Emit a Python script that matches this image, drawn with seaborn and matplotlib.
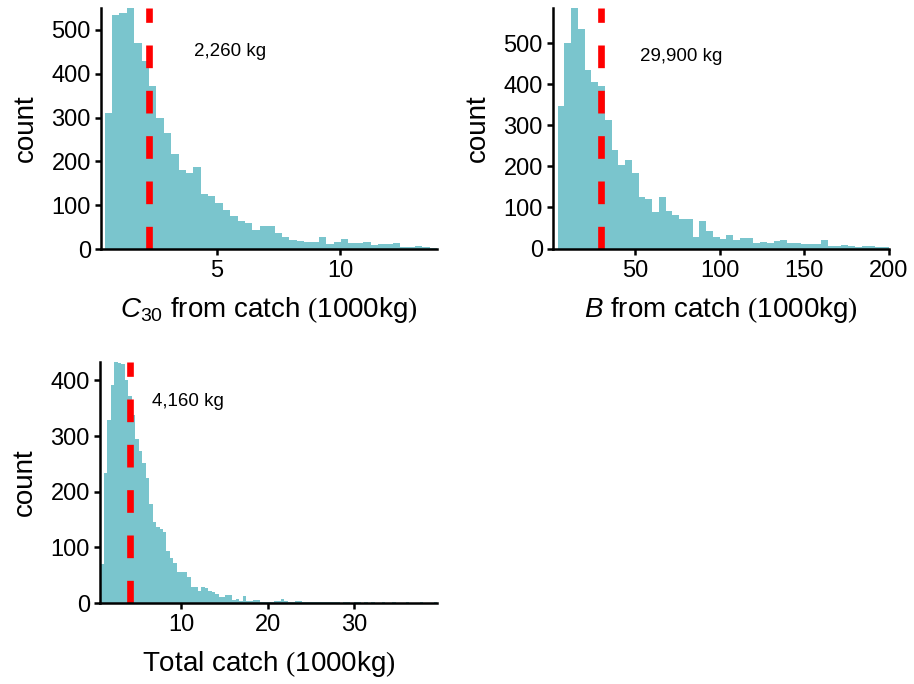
import numpy as np
import pandas as pd
import matplotlib
matplotlib.use('Agg')
import matplotlib.pyplot as plt
import seaborn as sns

# C30 from catch: 45 bins starting at 0.46, width ~0.3 (1000 kg)
c30_start, c30_width = 0.46, 0.2991
c30_counts = [310, 533, 539, 550, 469, 430, 372, 300, 265, 216,
              180, 174, 186, 125, 122, 105, 90, 76, 63, 60,
              44, 53, 53, 36, 28, 21, 19, 16, 15, 27,
              11, 17, 22, 13, 13, 16, 8, 12, 11, 13,
              5, 5, 6, 5, 3]
c30_median = 2.26
c30_text = '2,260 kg'

# B from catch: 49 bins starting at 4.4, width ~4 (1000 kg)
b_start, b_width = 4.4, 3.986
b_counts = [348, 501, 586, 535, 434, 406, 397, 312, 239, 204,
            216, 183, 126, 121, 89, 126, 92, 81, 72, 71,
            29, 68, 43, 28, 23, 32, 21, 25, 26, 13,
            15, 14, 18, 21, 14, 13, 10, 11, 12, 20,
            7, 7, 9, 5, 4, 6, 6, 3, 4]
b_median = 29.9
b_text = '29,900 kg'

# Total catch: 97 bins starting at 0.7, width 0.4 (1000 kg)
tot_start, tot_width = 0.70, 0.4008
tot_counts = [70, 234, 328, 391, 433, 432, 429, 401, 372, 338,
              294, 273, 252, 225, 177, 145, 136, 133, 127, 94,
              80, 71, 55, 56, 56, 47, 28, 28, 21, 28,
              27, 21, 19, 16, 11, 10, 15, 15, 6, 7,
              3, 13, 4, 4, 5, 5, 2, 2, 2, 2,
              3, 3, 7, 4, 2, 1, 3, 3, 1, 1,
              1, 1, 1, 1, 1, 2, 2, 1, 1, 0,
              1, 1, 0, 1, 1, 0, 1, 0, 1, 0,
              0, 1, 0, 0, 1, 0, 0, 0, 1, 0,
              0, 0, 1, 0, 0, 0, 1]
tot_median = 4.16
tot_text = '4,160 kg'

bar_color = '#7AC5CD'
line_color = '#FF0000'

sns.set_theme(style='ticks')
plt.rcParams['font.family'] = ['Liberation Sans', 'DejaVu Sans']
plt.rcParams['mathtext.fontset'] = 'custom'
plt.rcParams['mathtext.rm'] = 'Liberation Serif'
plt.rcParams['mathtext.it'] = 'Liberation Sans:italic'
plt.rcParams['mathtext.sf'] = 'Liberation Sans'


def draw_panel(ax, start, width, counts, median, text, text_xy,
               xlabel, xlim, xticks, yticks):
    edges = start + width * np.arange(len(counts) + 1)
    df = pd.DataFrame({'value': (edges[:-1] + edges[1:]) / 2,
                       'n': counts})
    sns.histplot(data=df, x='value', weights='n', bins=list(edges),
                 element='step', fill=True, color=bar_color, alpha=1,
                 linewidth=0, ax=ax)
    ax.axvline(median, color=line_color, lw=4.8, linestyle=(0, (3.4, 3.4)))
    ax.text(text_xy[0], text_xy[1], text, ha='center', va='center',
            fontsize=13.5, color='black')

    ax.set_xlim(xlim)
    ax.set_ylim(0, max(counts))
    ax.set_xticks(xticks)
    ax.set_yticks(yticks)
    ax.set_xlabel(xlabel, fontsize=20, color='black', labelpad=9.5)
    ax.set_ylabel('count', fontsize=20, color='black', labelpad=9)

    sns.despine(ax=ax)
    for side in ['left', 'bottom']:
        ax.spines[side].set_linewidth(1.8)
        ax.spines[side].set_color('black')
    ax.tick_params(length=4.5, width=1.8, labelsize=17, colors='black')
    ax.tick_params(axis='y', pad=2.8)


fig = plt.figure(figsize=(9.14, 6.84), dpi=100)
W, H = 914, 684

ax1 = fig.add_axes([101 / W, (H - 249) / H, 336 / W, 241 / H])
draw_panel(ax1, c30_start, c30_width, c30_counts, c30_median, c30_text,
           (5.52, 450), r'$C_{\mathsf{30}}$ from catch $($1000kg$)$',
           (0.31, 13.92), [5, 10], [0, 100, 200, 300, 400, 500])

ax2 = fig.add_axes([553 / W, (H - 248.5) / H, 336 / W, 240.5 / H])
draw_panel(ax2, b_start, b_width, b_counts, b_median, b_text,
           (77.3, 469), r'$B$ from catch $($1000kg$)$',
           (1.65, 199.9), [50, 100, 150, 200], [0, 100, 200, 300, 400, 500])

ax3 = fig.add_axes([100 / W, (H - 603) / H, 337 / W, 241 / H])
draw_panel(ax3, tot_start, tot_width, tot_counts, tot_median, tot_text,
           (10.79, 362), r'Total catch $($1000kg$)$',
           (0.64, 39.56), [10, 20, 30], [0, 100, 200, 300, 400])

fig.savefig('out.png', dpi=100)
